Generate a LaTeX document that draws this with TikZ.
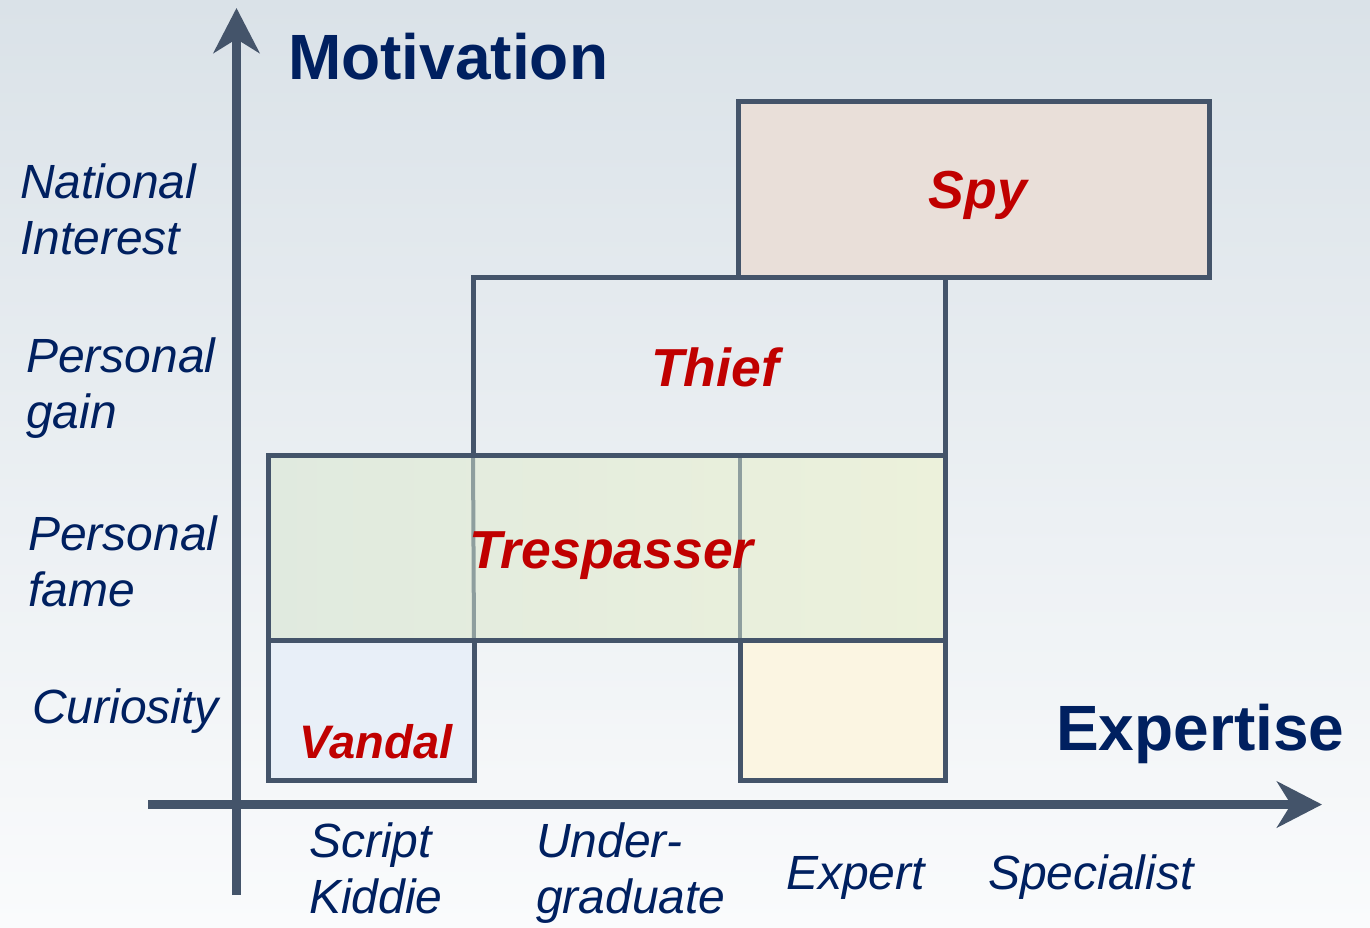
\documentclass[tikz,border=0pt]{standalone}
\usepackage{fontspec}
\setmainfont{Liberation Sans}
\usetikzlibrary{arrows.meta,calc}
\definecolor{axisc}{HTML}{44546A}
\definecolor{navy}{HTML}{002060}
\definecolor{redl}{HTML}{C00000}
\definecolor{bgtop}{HTML}{DAE2E8}
\definecolor{bgbot}{HTML}{FAFBFC}
\definecolor{spyfill}{HTML}{E9DFD9}
\definecolor{tresL}{HTML}{E0EADF}
\definecolor{tresR}{HTML}{ECF1DB}
\definecolor{vanfill}{HTML}{E8EFF8}
\definecolor{expfill}{HTML}{FBF5E2}
\definecolor{innerl}{HTML}{8E9E9E}
\begin{document}
\begin{tikzpicture}[x=1pt,y=-1pt,
  cell/.style={draw=axisc,line width=5pt,inner sep=0pt,outer sep=0pt},
  axisline/.style={draw=axisc,line width=8.5pt,-{Stealth[length=45pt,width=46pt,inset=14pt]}},
  innerline/.style={draw=innerl,line width=4pt},
  ylab/.style={font=\fontsize{48}{56}\selectfont\itshape,text=navy,align=left,anchor=base west,inner sep=0pt},
  rlab/.style={font=\fontsize{53.5}{60}\selectfont\bfseries\itshape,text=redl,anchor=base,inner sep=0pt},
  title/.style={font=\fontsize{64}{70}\selectfont\bfseries,text=navy,anchor=base west,inner sep=0pt}]
\useasboundingbox (0,0) rectangle (1370,927);
\shade[top color=bgtop,bottom color=bgbot] (0,0) rectangle (1370,927);

% boxes
\node[cell,fill=spyfill,minimum width=471.5pt,minimum height=176.5pt] (spy) at (973.75,189.25) {};
\node[cell,minimum width=472pt,minimum height=177.5pt] (thief) at (709,366.25) {};
\node[cell,draw=none,left color=tresL,right color=tresR,minimum width=677pt,minimum height=185pt] (tres) at (606.5,547.5) {};
\node[cell,fill=vanfill,minimum width=206pt,minimum height=140pt] (vandal) at (371,710) {};
\node[cell,fill=expfill,minimum width=205pt,minimum height=140pt] (expbox) at (842.5,710) {};
\draw[innerline] (thief.south west) -- (vandal.north east);
\draw[innerline] (expbox.north west) -- (expbox.north west |- tres.north);
\draw[draw=axisc,line width=5pt] (tres.north west) rectangle (tres.south east);

% labels in boxes
\node[rlab] (spyl) at ([xshift=4pt,yshift=-19pt]spy.center) {Spy};
\node[rlab] (thiefl) at ([xshift=6pt,yshift=-20pt]thief.center) {Thief};
\node[rlab] (tresl) at ([xshift=5pt,yshift=-21pt]tres.center) {Trespasser};
\node[rlab,font=\fontsize{47}{55}\selectfont\bfseries\itshape] (vandall) at (376,758) {Vandal};

% axes
\coordinate (yfrom) at (236.5,895);
\coordinate (yto) at (236.5,8);
\coordinate (xfrom) at (148,804.5);
\coordinate (xto) at (1322,804.5);
\draw[axisline] (yfrom) -- (yto);
\draw[axisline] (xfrom) -- (xto);

% titles
\node[title] (mot) at (288,79) {Motivation};
\node[title] (expt) at (1056,750) {Expertise};

% y labels (anchor at baseline of last line)
\node[ylab] (ni) at (20,254) {National\\Interest};
\node[ylab] (pg) at (26,428) {Personal\\gain};
\node[ylab] (pf) at (28,606) {Personal\\fame};
\node[ylab] (cu) at (32,723) {Curiosity};

% x labels
\node[ylab] (sk) at (309,913) {Script\\Kiddie};
\node[ylab] (ug) at (536,913) {Under-\\graduate};
\node[ylab] (ex) at (786,889) {Expert};
\node[ylab] (sp) at (988,889) {Specialist};
\end{tikzpicture}
\end{document}
